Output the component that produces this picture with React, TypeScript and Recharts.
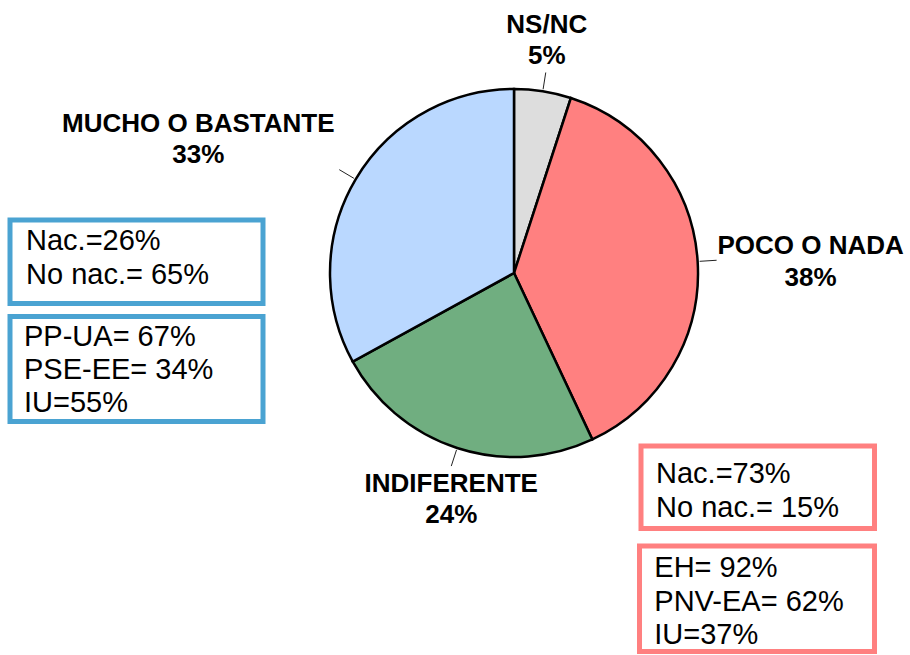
import React from 'react';
import { PieChart, Pie, Cell, Customized } from 'recharts';

const categories = ['NS/NC', 'POCO O NADA', 'INDIFERENTE', 'MUCHO O BASTANTE'];
const values = [5, 38, 24, 33];
const sliceColors = ['#DDDDDD', '#FF8080', '#70AE80', '#BAD8FF'];

const muchoNational = ['Nac.=26%', 'No nac.= 65%'];
const muchoParties = ['PP-UA= 67%', 'PSE-EE= 34%', 'IU=55%'];
const pocoNational = ['Nac.=73%', 'No nac.= 15%'];
const pocoParties = ['EH= 92%', 'PNV-EA= 62%', 'IU=37%'];

const data = categories.map((name, i) => ({ name, value: values[i] }));

const FONT = "'Liberation Sans', Arial, Helvetica, sans-serif";
const BLUE = '#4AA3D2';
const PINK = '#FF8080';

// label block offsets relative to the end of each leader line
const LABEL_OFFSETS = [
  { dx: 1, dy: -39.5 },
  { dx: 94, dy: -6 },
  { dx: 0, dy: 25.7 },
  { dx: -141, dy: -38 },
];

const RAD = Math.PI / 180;

function renderLabel(props: any) {
  const { cx, cy, midAngle, outerRadius, index } = props;
  const cos = Math.cos(-midAngle * RAD);
  const sin = Math.sin(-midAngle * RAD);
  const r1 = outerRadius + 2;
  const r2 = outerRadius + 19;
  const x1 = cx + r1 * cos;
  const y1 = cy + r1 * sin;
  const x2 = cx + r2 * cos;
  const y2 = cy + r2 * sin;
  const off = LABEL_OFFSETS[index];
  const tx = x2 + off.dx;
  const ty = y2 + off.dy;
  return (
    <g key={`lbl-${index}`}>
      <line x1={x1} y1={y1} x2={x2} y2={y2} stroke="#222" strokeWidth={1} />
      <text
        x={tx}
        y={ty}
        textAnchor="middle"
        fontFamily={FONT}
        fontSize={26}
        fontWeight="bold"
        fill="#000"
      >
        <tspan x={tx} y={ty}>{categories[index]}</tspan>
        <tspan x={tx} y={ty + 31.5}>{`${values[index]}%`}</tspan>
      </text>
    </g>
  );
}

type BoxSpec = {
  x: number;
  y: number;
  w: number;
  h: number;
  color: string;
  lines: string[];
  textX: number;
  baseline: number;
  gap: number;
};

const BOXES: BoxSpec[] = [
  { x: 10, y: 220, w: 253, h: 83.5, color: BLUE, lines: muchoNational, textX: 26, baseline: 249.5, gap: 34 },
  { x: 10, y: 316.5, w: 253, h: 105, color: BLUE, lines: muchoParties, textX: 24, baseline: 345.7, gap: 33.3 },
  { x: 641, y: 446, w: 233.5, h: 82.5, color: PINK, lines: pocoNational, textX: 656, baseline: 483.3, gap: 33.4 },
  { x: 639.5, y: 546, w: 235, h: 105.5, color: PINK, lines: pocoParties, textX: 654.3, baseline: 577, gap: 33.7 },
];

function Boxes() {
  return (
    <g>
      {BOXES.map((b, i) => (
        <g key={`box-${i}`}>
          <rect x={b.x} y={b.y} width={b.w} height={b.h} fill="#fff" stroke={b.color} strokeWidth={5} />
          <text fontFamily={FONT} fontSize={29} fill="#000">
            {b.lines.map((t, j) => (
              <tspan key={j} x={b.textX} y={b.baseline + j * b.gap}>
                {t}
              </tspan>
            ))}
          </text>
        </g>
      ))}
    </g>
  );
}

export default function App() {
  return (
    <div style={{ position: 'absolute', left: 0, top: 0, width: 910, height: 655, background: '#fff' }}>
      <PieChart width={910} height={655} margin={{ top: 0, right: 0, bottom: 0, left: 0 }}>
        <Pie
          data={data}
          dataKey="value"
          nameKey="name"
          cx={514}
          cy={273}
          outerRadius={184}
          startAngle={90}
          endAngle={-270}
          stroke="#000"
          strokeWidth={2.5}
          label={renderLabel}
          labelLine={false}
          isAnimationActive={false}
        >
          {data.map((d, i) => (
            <Cell key={d.name} fill={sliceColors[i]} stroke="#000" strokeWidth={2.5} />
          ))}
        </Pie>
        <Customized component={<Boxes />} />
      </PieChart>
    </div>
  );
}
